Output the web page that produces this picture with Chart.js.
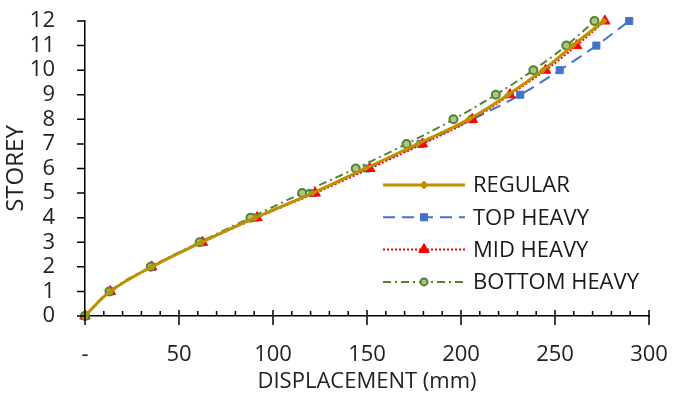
<!DOCTYPE html>
<html>
<head>
<meta charset="utf-8">
<script src="https://cdn.jsdelivr.net/npm/chart.js@4"></script>
<style>
  html, body { margin: 0; padding: 0; background: #fff; }
  #wrap { width: 675px; height: 399px; }
</style>
</head>
<body>
<div id="wrap"><canvas id="chart"></canvas></div>
<script>
// storey levels and displacements (mm)
const storeys = [0, 1, 2, 3, 4, 5, 6, 7, 8, 9, 10, 11, 12];
const regular = [0, 13.5, 35.5, 62, 90.5, 121, 149, 177, 204, 225, 243.5, 259.5, 276];
const topHeavy = [0, 13.5, 35.5, 62, 90.5, 121, 150, 178.5, 206, 231.5, 252.5, 272, 289.5];
const midHeavy = [0, 13.5, 35.5, 62.5, 91.5, 122.5, 151.5, 179.5, 206, 226, 245, 261.5, 276.5];
const bottomHeavy = [0, 13, 35, 61, 88, 115.5, 144, 171, 196, 218.5, 238.5, 256, 271];
const seriesNames = ["REGULAR", "TOP HEAVY", "MID HEAVY", "BOTTOM HEAVY"];
const xTicks = [0, 50, 100, 150, 200, 250, 300];

const FONT = "'Open Sans', sans-serif";

function pts(xs) {
    return xs.map((x, i) => ({ x: x, y: storeys[i] }));
}

// legend drawn inside the plot, lower right
const innerLegend = {
    id: "innerLegend",
    afterDraw(chart) {
        const ctx = chart.ctx;
        const area = chart.chartArea;
        const x0 = area.left + 298, x1 = area.left + 380;
        let y = area.top + 164;
        ctx.save();
        chart.data.datasets.forEach(ds => {
            ctx.strokeStyle = ds.borderColor;
            ctx.lineWidth = ds.borderWidth;
            ctx.setLineDash(ds.borderDash || []);
            ctx.beginPath();
            ctx.moveTo(x0, y);
            ctx.lineTo(x1, y);
            ctx.stroke();
            ctx.setLineDash([]);
            ctx.fillStyle = ds.pointBackgroundColor;
            ctx.strokeStyle = ds.pointBorderColor;
            ctx.lineWidth = ds.pointBorderWidth || 1;
            Chart.helpers.drawPoint(ctx, {
                pointStyle: ds.pointStyle,
                radius: ds.legendRadius,
                rotation: 0,
                borderWidth: ds.pointBorderWidth || 1
            }, (x0 + x1) / 2, y);
            ctx.fillStyle = "#1a1a1a";
            ctx.font = "22px " + FONT;
            ctx.textBaseline = "middle";
            ctx.fillText(ds.label, x1 + 8, y + 1);
            y += 32.3;
        });
        ctx.restore();
    }
};

// tick marks like the spreadsheet: major crossing, minor inside
const axisTicks = {
    id: "axisTicks",
    afterDraw(chart) {
        const ctx = chart.ctx;
        const xs = chart.scales.x, ys = chart.scales.y;
        const yb = ys.getPixelForValue(0);
        const xl = xs.getPixelForValue(0);
        ctx.save();
        ctx.strokeStyle = "#000";
        ctx.lineWidth = 1.5;
        ctx.beginPath();
        for (let v = 0; v <= 300; v += 10) {
            const px = xs.getPixelForValue(v);
            if (v % 50 === 0) {
                ctx.moveTo(px, yb - 6);
                ctx.lineTo(px, yb + 9);
            } else {
                ctx.moveTo(px, yb - 5);
                ctx.lineTo(px, yb);
            }
        }
        for (let s = 0; s <= 12; s++) {
            const py = ys.getPixelForValue(s);
            ctx.moveTo(xl - 8, py);
            ctx.lineTo(xl, py);
        }
        ctx.stroke();
        ctx.restore();
    }
};

new Chart(document.getElementById("chart"), {
    type: "scatter",
    data: {
        datasets: [
            {
                label: seriesNames[0],
                data: pts(regular),
                showLine: true,
                clip: false,
                borderColor: "#BF9000",
                backgroundColor: "#BF9000",
                borderWidth: 3,
                pointStyle: "rectRot",
                pointRadius: 3,
                legendRadius: 4,
                pointBackgroundColor: "#BF9000",
                pointBorderColor: "#BF9000",
                pointBorderWidth: 1,
                tension: 0.4,
                order: 0
            },
            {
                label: seriesNames[1],
                data: pts(topHeavy),
                showLine: true,
                clip: false,
                borderColor: "#4472C4",
                backgroundColor: "#4472C4",
                borderWidth: 2,
                borderDash: [12, 7],
                pointStyle: "rect",
                pointRadius: 5,
                legendRadius: 5,
                pointBackgroundColor: "#4472C4",
                pointBorderColor: "#4472C4",
                pointBorderWidth: 1,
                tension: 0.4,
                order: 3
            },
            {
                label: seriesNames[2],
                data: pts(midHeavy),
                showLine: true,
                clip: false,
                borderColor: "#FF0000",
                backgroundColor: "#FF0000",
                borderWidth: 2,
                borderDash: [2, 2],
                pointStyle: "triangle",
                pointRadius: 6,
                legendRadius: 6,
                pointBackgroundColor: "#FF0000",
                pointBorderColor: "#FF0000",
                pointBorderWidth: 1,
                tension: 0.4,
                order: 2
            },
            {
                label: seriesNames[3],
                data: pts(bottomHeavy),
                showLine: true,
                clip: false,
                borderColor: "#548235",
                backgroundColor: "#A9C77F",
                borderWidth: 2,
                borderDash: [8, 4, 2, 4],
                pointStyle: "circle",
                pointRadius: 4,
                legendRadius: 3.5,
                pointBackgroundColor: "#A9C77F",
                pointBorderColor: "#548235",
                pointBorderWidth: 2,
                tension: 0.4,
                order: 1
            }
        ]
    },
    options: {
        responsive: true,
        maintainAspectRatio: false,
        animation: false,
        layout: { padding: { top: 21, right: 26, left: 0, bottom: 0 } },
        plugins: {
            legend: { display: false },
            tooltip: { enabled: false }
        },
        scales: {
            x: {
                type: "linear",
                min: 0,
                max: 300,
                afterBuildTicks: s => { s.ticks = xTicks.map(v => ({ value: v })); },
                afterFit: s => {
                    s.height = 83;
                    s.paddingLeft = 0;
                    s.paddingRight = 0;
                },
                grid: { display: false, drawTicks: false },
                border: { display: true, color: "#000", width: 1.5 },
                ticks: {
                    padding: 26,
                    color: "#222",
                    autoSkip: false,
                    font: { family: FONT, size: 22 },
                    maxRotation: 0,
                    callback: v => v === 0 ? "-" : v
                },
                title: {
                    display: true,
                    text: "DISPLACEMENT (mm)",
                    color: "#222",
                    font: { family: FONT, size: 22 },
                    padding: { top: 0, bottom: 4 }
                }
            },
            y: {
                type: "linear",
                min: 0,
                max: 12,
                afterFit: s => {
                    s.width = 85;
                    s.paddingTop = 0;
                    s.paddingBottom = 0;
                },
                grid: { display: false, drawTicks: false },
                border: { display: true, color: "#000", width: 1.5 },
                ticks: {
                    stepSize: 1,
                    autoSkip: false,
                    padding: 30,
                    color: "#222",
                    font: { family: FONT, size: 22 }
                },
                title: {
                    display: true,
                    text: "STOREY",
                    color: "#222",
                    font: { family: FONT, size: 24 },
                    padding: { top: 2, bottom: 0 }
                }
            }
        }
    },
    plugins: [axisTicks, innerLegend]
});
</script>
</body>
</html>
